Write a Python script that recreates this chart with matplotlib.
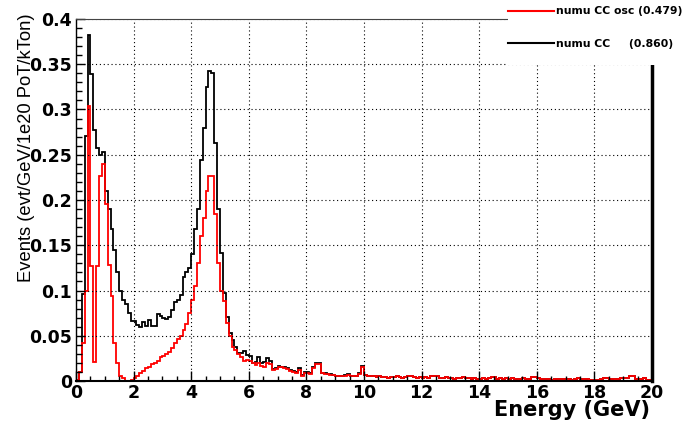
import numpy as np
import matplotlib
matplotlib.use("Agg")
import matplotlib.pyplot as plt
from matplotlib.lines import Line2D
from matplotlib.patches import Rectangle
from matplotlib.ticker import MultipleLocator, FuncFormatter

# 200 bins of 0.1 GeV from 0 to 20 GeV
edges = np.linspace(0, 20, 201)

# numu CC, bins 0-10 GeV
numu_cc = [
    0.0, 0.01, 0.096, 0.271, 0.382, 0.339, 0.277, 0.258, 0.25, 0.253,
    0.21, 0.19, 0.168, 0.145, 0.12, 0.1, 0.09, 0.085, 0.075, 0.066,
    0.066, 0.062, 0.06, 0.065, 0.061, 0.067, 0.061, 0.061, 0.074, 0.072,
    0.07, 0.068, 0.071, 0.078, 0.087, 0.089, 0.095, 0.115, 0.12, 0.125,
    0.14, 0.168, 0.19, 0.244, 0.28, 0.325, 0.342, 0.34, 0.263, 0.19,
    0.141, 0.097, 0.071, 0.053, 0.045, 0.038, 0.031, 0.031, 0.033, 0.029,
    0.028, 0.02, 0.021, 0.026, 0.02, 0.021, 0.025, 0.022, 0.013, 0.014,
    0.017, 0.016, 0.016, 0.014, 0.012, 0.011, 0.01, 0.014, 0.007, 0.01,
    0.01, 0.009, 0.015, 0.02, 0.02, 0.009, 0.009, 0.008, 0.008, 0.007,
    0.006, 0.006, 0.006, 0.007, 0.008, 0.005, 0.005, 0.005, 0.009, 0.017,
]

# numu CC oscillated, bins 0-10 GeV
numu_cc_osc = [
    0.001, 0.01, 0.042, 0.099, 0.304, 0.127, 0.021, 0.127, 0.227, 0.24,
    0.196, 0.128, 0.094, 0.042, 0.02, 0.005, 0.003, 0.0, 0.0, 0.001,
    0.003, 0.006, 0.009, 0.011, 0.014, 0.016, 0.019, 0.02, 0.022, 0.026,
    0.028, 0.03, 0.032, 0.036, 0.042, 0.046, 0.05, 0.056, 0.063, 0.075,
    0.09, 0.105, 0.13, 0.16, 0.18, 0.21, 0.226, 0.226, 0.185, 0.13,
    0.1, 0.088, 0.064, 0.05, 0.038, 0.034, 0.03, 0.026, 0.022, 0.023,
    0.022, 0.02, 0.018, 0.02, 0.017, 0.016, 0.02, 0.019, 0.012, 0.013,
    0.016, 0.015, 0.014, 0.013, 0.011, 0.01, 0.009, 0.012, 0.006, 0.009,
    0.009, 0.008, 0.014, 0.019, 0.019, 0.009, 0.008, 0.008, 0.007, 0.007,
    0.006, 0.006, 0.006, 0.006, 0.007, 0.005, 0.005, 0.005, 0.008, 0.016,
]

# 10-20 GeV, both curves sit on top of each other here
tail = [
    0.007, 0.006, 0.005, 0.005, 0.004, 0.005, 0.004, 0.004, 0.003, 0.004,
    0.004, 0.005, 0.004, 0.003, 0.004, 0.006, 0.005, 0.004, 0.003, 0.004,
    0.003, 0.004, 0.003, 0.005, 0.006, 0.006, 0.003, 0.003, 0.004, 0.003,
    0.003, 0.002, 0.003, 0.003, 0.004, 0.003, 0.003, 0.002, 0.003, 0.002,
    0.002, 0.003, 0.002, 0.003, 0.004, 0.004, 0.002, 0.003, 0.002, 0.003,
    0.002, 0.003, 0.002, 0.002, 0.002, 0.003, 0.002, 0.002, 0.004, 0.004,
    0.003, 0.002, 0.002, 0.002, 0.002, 0.001, 0.002, 0.002, 0.002, 0.002,
    0.001, 0.002, 0.001, 0.002, 0.003, 0.002, 0.002, 0.002, 0.001, 0.001,
    0.001, 0.001, 0.002, 0.003, 0.003, 0.002, 0.002, 0.001, 0.002, 0.003,
    0.003, 0.003, 0.005, 0.005, 0.002, 0.001, 0.002, 0.003, 0.001, 0.001,
]

labels = ["numu CC osc (0.479)", "numu CC     (0.860)"]
colors = ["red", "black"]

W, H = 694, 422
fig = plt.figure(figsize=(W / 100, H / 100), dpi=100)
ax = fig.add_axes([76 / W, 41 / H, 576 / W, 362 / H])

ax.stairs(numu_cc + tail, edges, color="black", lw=1.3)
ax.stairs(numu_cc_osc + tail, edges, color="red", lw=1.3)

ax.set_xlim(0, 20)
ax.set_ylim(0, 0.4)
ax.xaxis.set_major_locator(MultipleLocator(2))
ax.xaxis.set_minor_locator(MultipleLocator(0.5))
ax.yaxis.set_major_locator(MultipleLocator(0.05))
ax.yaxis.set_minor_locator(MultipleLocator(0.01))
ax.yaxis.set_major_formatter(FuncFormatter(lambda v, p: "%g" % round(v, 3)))

ax.grid(True, which="major", color="black", ls=(0, (1, 2.5)), lw=0.8)
ax.tick_params(which="both", direction="in", top=False, right=False,
               labelsize=12.5)
ax.tick_params(axis="x", which="major", length=7, width=1, pad=2)
ax.tick_params(axis="x", which="minor", length=3.5, width=1)
ax.tick_params(axis="y", which="major", length=6.5, width=1, pad=3)
ax.tick_params(axis="y", which="minor", length=4.3, width=1)
for lab in ax.get_xticklabels() + ax.get_yticklabels():
    lab.set_fontweight("bold")

ax.spines["top"].set_linewidth(0.8)
ax.spines["top"].set_color("#444444")
ax.spines["right"].set_linewidth(2.5)
ax.spines["left"].set_linewidth(1.0)
ax.spines["bottom"].set_linewidth(1.5)

ax.set_xlabel("Energy (GeV)", fontsize=15, fontweight="bold", loc="right")
ax.xaxis.label.set_va("baseline")
ax.xaxis.set_label_coords((650 - 76) / 576, (381 - 416) / 362)

ax.set_ylabel("Events (evt/GeV/1e20 PoT/kTon)", fontsize=13.2,
              family="Liberation Sans", loc="top")
ax.yaxis.label.set_va("baseline")
ax.yaxis.set_label_coords((31 - 76) / 576, (381 - 13) / 362)

# white legend pad hiding the corner of the frame
fig.add_artist(Rectangle((508 / W, 1 - 65 / H), 1 - 508 / W, 65 / H,
                         transform=fig.transFigure, facecolor="white",
                         edgecolor="none", zorder=3))
handles = [Line2D([], [], color=c, lw=1.5) for c in colors]
fig.legend(handles, labels, loc="upper left",
           bbox_to_anchor=(508 / W, 1 - 6.5 / H), frameon=False,
           prop={"family": "DejaVu Sans", "weight": "bold", "size": 7.8},
           handlelength=4.2, handletextpad=0.2, labelspacing=2.1,
           borderpad=0, borderaxespad=0)

fig.savefig("out.png", dpi=100)
